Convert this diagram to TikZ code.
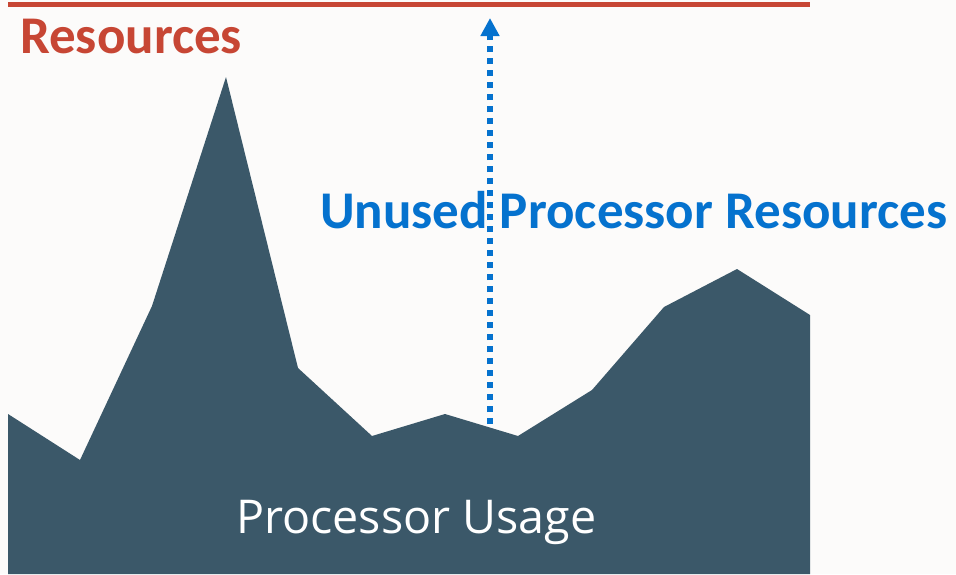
\documentclass[tikz,border=0pt]{standalone}
\usepackage{fontspec}
\setmainfont{Carlito}
\newfontfamily\usagefont{Open Sans}
\usetikzlibrary{arrows.meta}
\definecolor{oraclered}{HTML}{C74634}
\definecolor{slate}{HTML}{3B5869}
\definecolor{unusedblue}{HTML}{0572CE}
\definecolor{paper}{HTML}{FCFBFA}
\begin{document}
\begin{tikzpicture}[x=1pt,y=-1pt,
  label/.style = {anchor=base west, inner sep=0pt, font=\fontsize{53}{56}\selectfont\bfseries},
  headroom/.style = {line width=6pt, dash pattern=on 6pt off 6pt, unusedblue,
    -{Triangle[width=18pt,length=18pt]}}]
\fill[paper] (0,0) rectangle (956,574);
\useasboundingbox (0,0) rectangle (956,574);
% capacity line
\draw[oraclered, line width=5pt] (8,4.5) -- (810,4.5);
\node[label, text=oraclered] (res) at (20,53) {Resources};
% usage area
\fill[slate] (8,414) -- (80,460) -- (152,306) -- (226,77) -- (298,368)
  -- (372,436) -- (445,414) -- (518,436) -- (592,390) -- (664,307)
  -- (737,269) -- (810,315) -- (810,574) -- (8,574) -- cycle;
\node[anchor=base west, inner sep=0pt, text=white, font=\usagefont\fontsize{46.6}{50}\selectfont] (usage) at (236,533) {Processor Usage};
% unused headroom
\coordinate (top of usage) at (490,424);
\coordinate (capacity) at (490,18);
\draw[headroom] (top of usage) -- (capacity);
\node[label, text=unusedblue] (unused) at (320,228) {Unused Processor Resources};
\end{tikzpicture}
\end{document}
